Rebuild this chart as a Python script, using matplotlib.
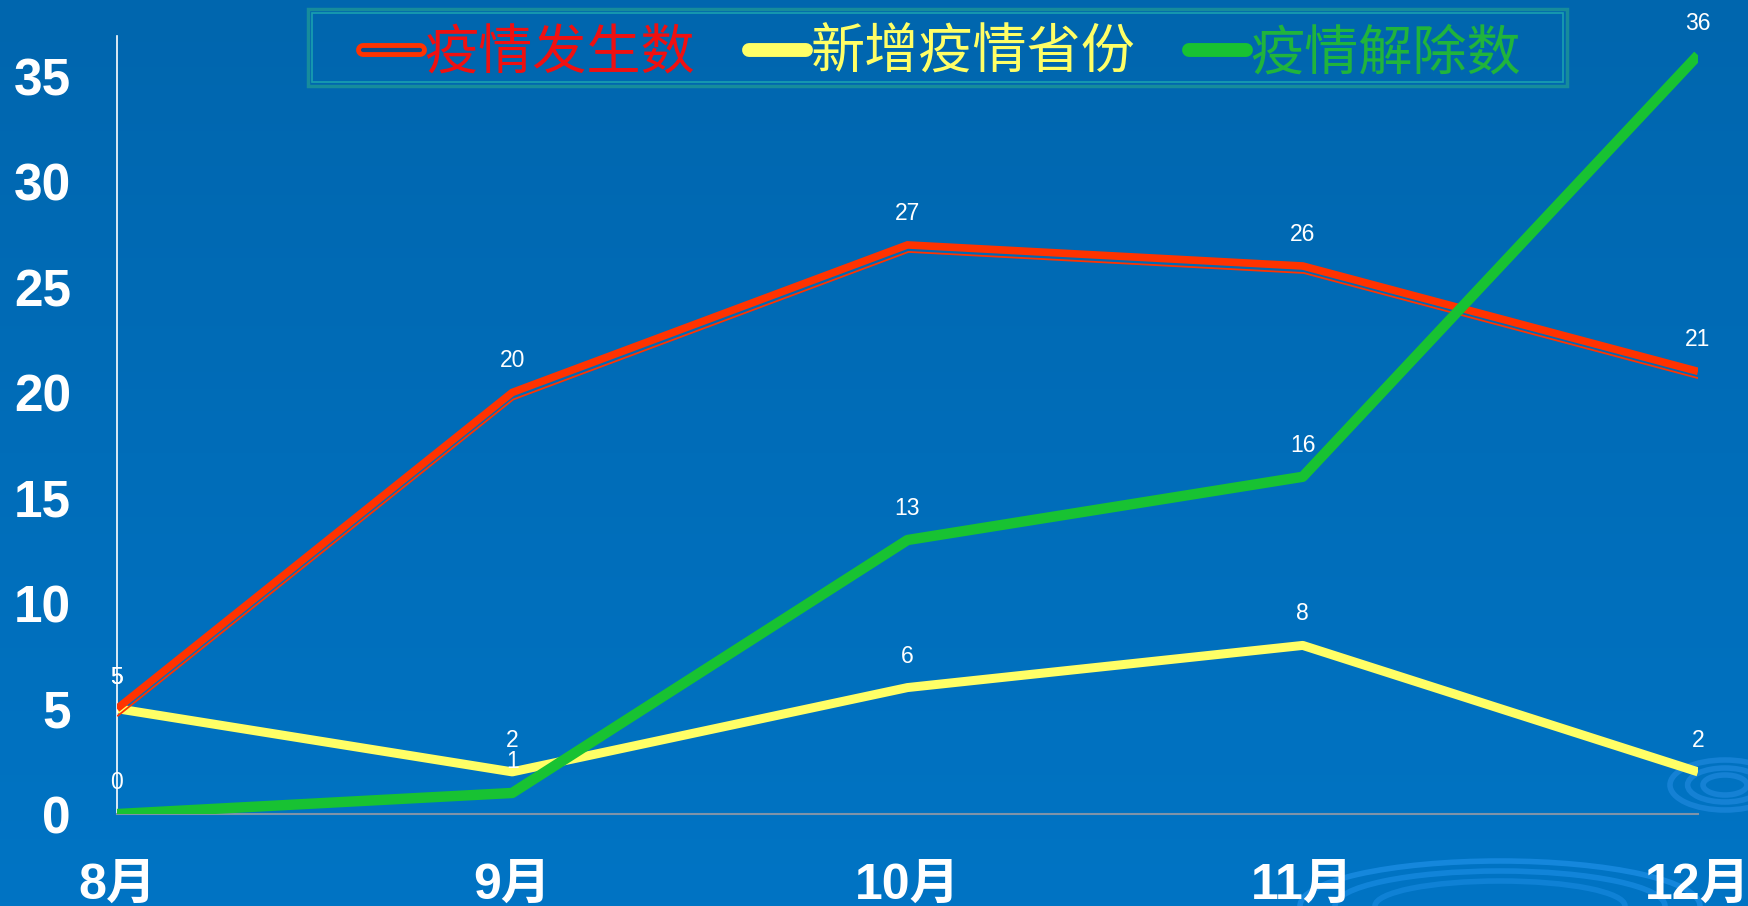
import matplotlib.pyplot as plt
import matplotlib.patches as mpatches
import matplotlib.patheffects as pe
import matplotlib.transforms as mtransforms
import numpy as np

plt.rcParams['font.family'] = ['Liberation Sans', 'Noto Sans CJK SC', 'DejaVu Sans']

months = ['8月', '9月', '10月', '11月', '12月']
outbreaks = [5, 20, 27, 26, 21]          # 疫情发生数
new_provinces = [5, 2, 6, 8, 2]          # 新增疫情省份
lifted = [0, 1, 13, 16, 36]              # 疫情解除数
series_names = ['疫情发生数', '新增疫情省份', '疫情解除数']

red = '#FF3300'
yellow = '#FFFF66'
green = '#18C232'

fig = plt.figure(figsize=(17.48, 9.06), dpi=100)

# background gradient + legend box, in pixel coords
bg = fig.add_axes([0, 0, 1, 1], zorder=-2)
grad = np.linspace(0, 1, 256).reshape(-1, 1)
top = np.array([0, 102, 174]) / 255
bot = np.array([0, 116, 196]) / 255
img = top + (bot - top) * grad[..., None]
bg.imshow(img, aspect='auto', extent=[0, 1748, 906, 0])
for w, h, a in [(400, 90, 0.7), (330, 70, 0.6), (250, 50, 0.5)]:
    bg.add_patch(mpatches.Ellipse((1500, 906), w, h, fill=False,
                                  edgecolor='#1E90E8', linewidth=4, alpha=a))
for r in [20, 34, 50]:
    bg.add_patch(mpatches.Ellipse((1725, 785), r * 2.2, r, fill=False,
                                  edgecolor='#1E88DD', linewidth=4, alpha=0.7))
bg.add_patch(mpatches.Rectangle((308, 9), 1259, 77, fill=False,
                                edgecolor='#168C9C', linewidth=2.5))
bg.add_patch(mpatches.Rectangle((312, 13), 1251, 69, fill=False,
                                edgecolor='#1AA0B0', linewidth=1.2))
bg.set_xlim(0, 1748)
bg.set_ylim(906, 0)
bg.axis('off')

ax = fig.add_axes([0.0669, 0.1015, 0.9045, 0.8585])
ax.set_facecolor('none')
x = np.arange(len(months))

ax.plot(x, outbreaks, color=red, linewidth=5.5, solid_capstyle='butt',
        solid_joinstyle='miter', zorder=3)
shadow = mtransforms.offset_copy(ax.transData, fig=fig, x=1, y=-7, units='dots')
ax.plot(x, outbreaks, color=red, linewidth=1.3, transform=shadow, zorder=3)
ax.plot(x, new_provinces, color=yellow, linewidth=6.5, solid_capstyle='butt', zorder=2)
ax.plot(x, lifted, color=green, linewidth=7.5, solid_capstyle='butt', zorder=4)

for ys in (outbreaks, new_provinces, lifted):
    for xi, yi in zip(x, ys):
        ax.annotate(str(yi), (xi, yi), xytext=(0, 18), textcoords='offset points',
                    ha='center', va='baseline', color='white', fontsize=16.5, zorder=6)

ax.set_xlim(0, 4)
ax.set_ylim(0, 36.9)
ax.set_yticks(range(0, 36, 5))
ax.set_xticks(x)
ax.set_xticklabels(months)
ax.tick_params(length=0)
ax.tick_params(axis='y', pad=33, labelsize=37, labelcolor='white')
ax.tick_params(axis='x', pad=35, labelsize=36, labelcolor='white')
for lab in ax.get_yticklabels() + ax.get_xticklabels():
    lab.set_fontweight('bold')
for s in ['top', 'right']:
    ax.spines[s].set_visible(False)
ax.spines['left'].set_color('white')
ax.spines['left'].set_linewidth(1.2)
ax.spines['bottom'].set_color('#7F93A8')
ax.spines['bottom'].set_linewidth(1.5)

handles = [
    plt.Line2D([], [], color='#0A4C8C', linewidth=3, solid_capstyle='round',
               path_effects=[pe.Stroke(linewidth=10, foreground=red), pe.Normal()]),
    plt.Line2D([], [], color=yellow, linewidth=10, solid_capstyle='round'),
    plt.Line2D([], [], color=green, linewidth=10, solid_capstyle='round'),
]
leg = fig.legend(handles, series_names, loc='center', bbox_to_anchor=(0.539, 0.941),
                 ncol=3, handlelength=1.05, handletextpad=0.08,
                 columnspacing=1.0, frameon=False,
                 prop={'family': ['Noto Sans CJK SC'], 'size': 39})
for t, c in zip(leg.get_texts(), ['#F01010', yellow, '#20B43C']):
    t.set_color(c)

fig.savefig('out.png', dpi=100)
